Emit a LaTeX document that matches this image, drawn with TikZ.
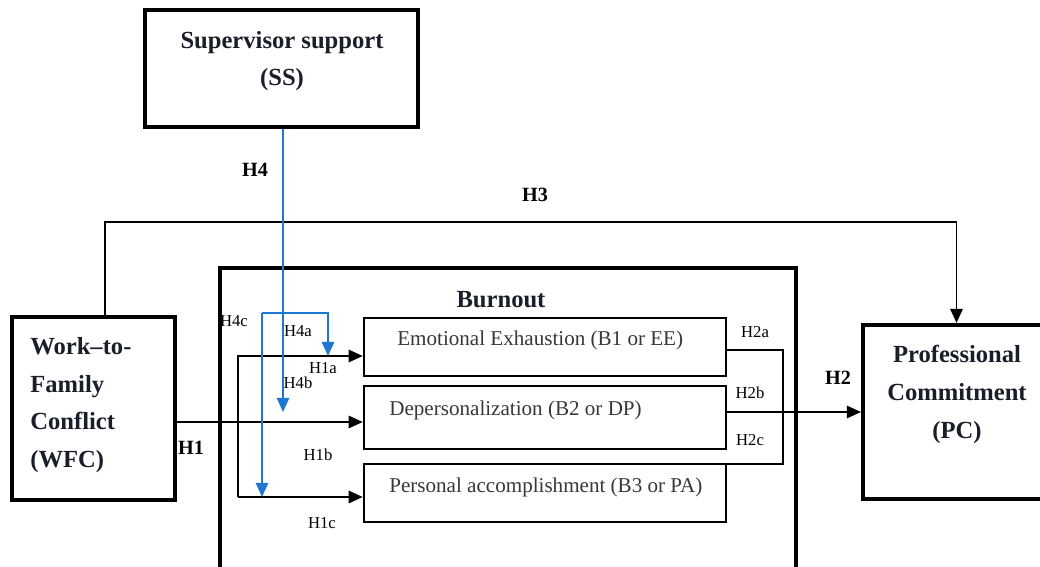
\documentclass[tikz,border=0pt]{standalone}
\usepackage{fontspec}
\setmainfont{Liberation Serif}
\usetikzlibrary{positioning,arrows.meta}
\definecolor{modblue}{RGB}{30,120,210}
\definecolor{boxtext}{RGB}{55,55,55}
\definecolor{headtext}{RGB}{25,30,40}
\newcommand{\pxu}{0.02cm}

\begin{document}
\begin{tikzpicture}[x=0.02cm,y=-0.02cm,
  bigbox/.style={draw,line width=2.3pt,inner sep=0pt},
  subbox/.style={draw,line width=1.4pt,inner sep=0pt,minimum width={362*\pxu}},
  bigtext/.style={font=\fontsize{14}{21.5}\selectfont\bfseries,text=headtext,inner sep=0pt},
  subtext/.style={font=\fontsize{12}{14}\selectfont,text=boxtext,inner sep=0pt,anchor=west},
  hyp/.style={font=\fontsize{11.5}{13}\selectfont\bfseries,inner sep=0pt},
  sublab/.style={font=\fontsize{9.5}{11}\selectfont,inner sep=0pt},
  conn/.style={line width=1.1pt},
  tip/.style={-{Triangle[length=8pt,width=7pt]}},
  modline/.style={modblue,line width=1.1pt}]
\useasboundingbox (0,0) rectangle (1040,567);
\clip (0,0) rectangle (1040,567);

% boxes
\node[bigbox,minimum width={273*\pxu},minimum height={117*\pxu}] (ss) at (281.5,68.5) {};
\node[bigtext,align=center] (sstext) at (282,61) {Supervisor support\\(SS)};
\node[bigbox,minimum width={163*\pxu},minimum height={183*\pxu}] (wfc) at (93.5,408.5) {};
\node[bigtext,align=left,anchor=west] (wfctext) at (30,405) {Work--to-\\Family\\Conflict\\(WFC)};
\node[bigbox,minimum width={187*\pxu},minimum height={174*\pxu}] (pc) at (956.5,412) {};
\node[bigtext,align=center] (pctext) at (957,394.5) {Professional\\Commitment\\(PC)};
\node[draw,line width=2pt,inner sep=0pt,minimum width={576*\pxu},minimum height={332*\pxu}] (burnout) at (508,434) {};
\node[bigtext] (burnouttext) at (501,300) {Burnout};

\node[subbox,minimum height={58*\pxu}] (ee) at (545,347) {};
\node[subbox,minimum height={63*\pxu}] (dp) at (545,417.5) {};
\node[subbox,minimum height={58*\pxu}] (pa) at (545,493) {};
\node[subtext] (eetext) at (397,340) {Emotional Exhaustion (B1 or EE)};
\node[subtext] (dptext) at (389,410) {Depersonalization (B2 or DP)};
\node[subtext] (patext) at (389,487) {Personal accomplishment (B3 or PA)};

% hypothesis labels
\node[hyp] (h4lab) at (255,170) {H4};
\node[hyp] (h3lab) at (535,195) {H3};
\node[hyp] (h1lab) at (191,448) {H1};
\node[hyp] (h2lab) at (838,378) {H2};
\node[sublab] (h4clab) at (234,321) {H4c};
\node[sublab] (h4alab) at (298,331) {H4a};
\node[sublab] (h1alab) at (323,368) {H1a};
\node[sublab] (h4blab) at (298,383) {H4b};
\node[sublab] (h1blab) at (318,455) {H1b};
\node[sublab] (h1clab) at (322,523) {H1c};
\node[sublab] (h2alab) at (755,332) {H2a};
\node[sublab] (h2blab) at (750,393) {H2b};
\node[sublab] (h2clab) at (750,440) {H2c};

\coordinate (h3corner) at (105,222);
\coordinate (h4end) at (283,412);
\coordinate (h4left) at (262,313);
\coordinate (h4right) at (328,313);
\coordinate (h1top) at (238,356);
\coordinate (h1mid) at (238,422);
\coordinate (h1bot) at (238,497);
\coordinate (h2top) at (783,350);
\coordinate (h2mid) at (783,412);
\coordinate (h2bot) at (783,464);

% H3
\draw[conn,tip] (wfc.north -| h3corner) -- (h3corner) -| (pc.north);
% H1
\draw[conn,tip] (wfc.east |- h1mid) -- (h1mid -| dp.west);
\draw[conn,tip] (h1bot) -- (h1top) -- (h1top -| ee.west);
\draw[conn,tip] (h1bot) -- (h1bot -| pa.west);
% H2
\draw[conn] (ee.east |- h2top) -- (h2top) -- (h2bot) -- (h2bot -| pa.east);
\draw[conn,tip] (h2mid -| dp.east) -- (h2mid -| pc.west);
% H4
\draw[modline,tip] (ss.south -| h4end) -- (h4end);
\draw[modline,tip] (h4left) -- (h4right) -- (h4right |- h1top);
\draw[modline,tip] (h4left) -- (h4left |- h1bot);
\end{tikzpicture}
\end{document}
